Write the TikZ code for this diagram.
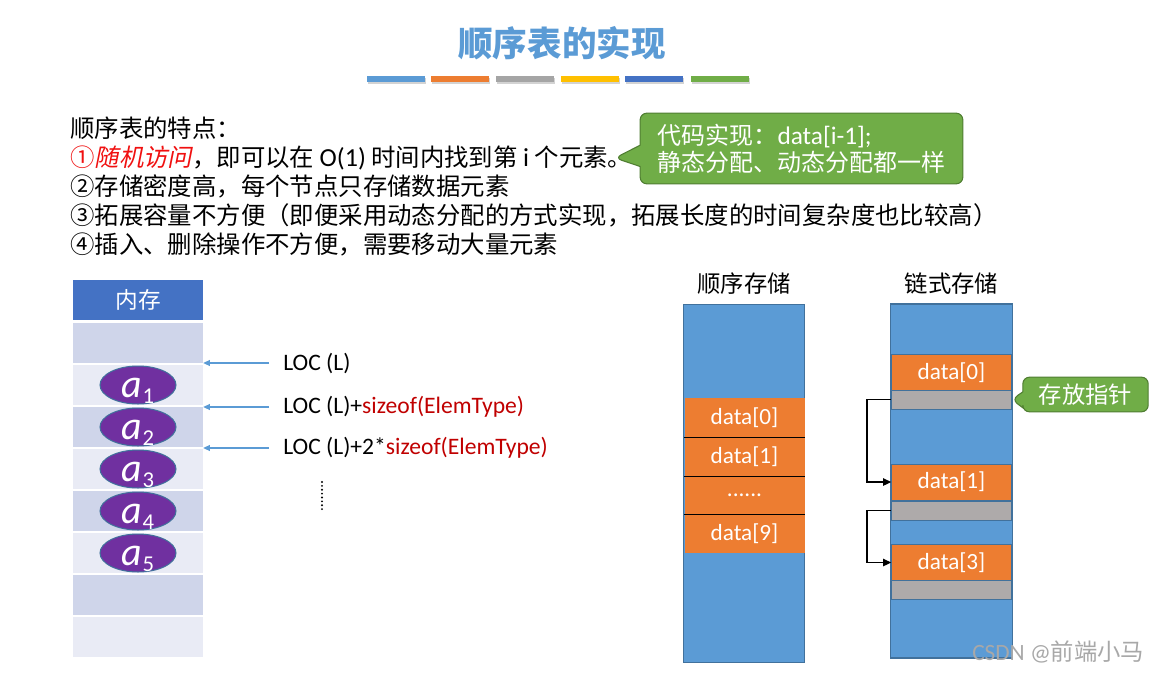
\documentclass[tikz,border=0pt]{standalone}
\usepackage{fontspec}
\setmainfont{Carlito}
\newfontfamily\cjk{Noto Sans CJK SC}
\newfontfamily\cjkit[FakeSlant=0.2]{Noto Sans CJK SC}
\usetikzlibrary{positioning,shapes.geometric,shapes.callouts,arrows.meta,shadows}
\definecolor{titleblue}{HTML}{5B9BD5}
\definecolor{barorange}{HTML}{ED7D31}
\definecolor{bargray}{HTML}{A5A5A5}
\definecolor{baryellow}{HTML}{FFC000}
\definecolor{bardark}{HTML}{4472C4}
\definecolor{bargreen}{HTML}{70AD47}
\definecolor{greenline}{HTML}{507E32}
\definecolor{memdark}{HTML}{CFD5EA}
\definecolor{memlight}{HTML}{E9EBF5}
\definecolor{elemfill}{HTML}{7030A0}
\definecolor{elemline}{HTML}{41719C}
\definecolor{colline}{HTML}{41719C}
\definecolor{ptrgray}{HTML}{AEAAAA}
\definecolor{hlred}{HTML}{F01010}
\definecolor{sizered}{HTML}{C00000}
\definecolor{wmgray}{HTML}{A8A8A8}
\newcommand\sixdots{......}

\begin{document}
\begin{tikzpicture}[x=0.75pt,y=-0.75pt,
  bar/.style={rectangle,inner sep=0pt,minimum width=43.5pt,minimum height=4.5pt,
    drop shadow={shadow xshift=0.8pt,shadow yshift=-1.2pt,opacity=0.35}},
  memrow/.style={rectangle,inner sep=0pt,minimum width=97.5pt,minimum height=30pt},
  elem/.style={ellipse,draw=elemline,line width=0.75pt,fill=elemfill,inner sep=0pt,
    minimum width=57pt,minimum height=28.5pt,text height=19pt,text depth=0pt,
    text=white,font=\fontsize{30}{30}\selectfont},
  ptr/.style={-{Triangle[length=5pt,width=4.5pt]},draw=titleblue,line width=0.8pt},
  loc/.style={anchor=west,inner sep=0pt,font=\fontsize{17.7}{20}\selectfont},
  head/.style={font=\cjk\fontsize{17.5}{20}\selectfont},
  col/.style={rectangle,draw=colline,fill=titleblue,line width=0.8pt,inner sep=0pt,minimum width=91pt},
  cell/.style={rectangle,inner sep=0pt,minimum width=90pt,text=white,font=\fontsize{17.4}{20}\selectfont},
  sep/.style={black,line width=0.9pt},
  link/.style={-{Triangle[length=6pt,width=5.5pt]},black,line width=1.1pt},
  note/.style={rectangle callout,rounded corners=5pt,fill=bargreen,draw=greenline,line width=0.8pt,
    text=white,inner sep=0pt,font=\cjk\fontsize{18}{20.3}\selectfont}]
\useasboundingbox (0,0) rectangle (1153,672);

\node[font=\cjk\bfseries\fontsize{25.9}{28}\selectfont,text=titleblue] (title) at (562,43) {顺序表的实现};
\foreach \x/\c [count=\i] in {396/titleblue,460/barorange,525/bargray,590/baryellow,654/bardark,720/bargreen}
  \node[bar,fill=\c] (bar\i) at (\x,79) {};

\node[anchor=north west,align=left,inner sep=0pt,font=\cjk\fontsize{18.3}{21.6}\selectfont] (feat) at (70,117)
  {顺序表的特点：\\
   {\color{hlred}①{\cjkit 随机访问}}，即可以在 {\rmfamily\fontsize{19.5}{21.6}\selectfont O(1)} 时间内找到第 {\rmfamily\fontsize{19.5}{21.6}\selectfont i} 个元素。\\
   ②存储密度高，每个节点只存储数据元素\\
   ③拓展容量不方便（即便采用动态分配的方式实现，拓展长度的时间复杂度也比较高）\\
   ④插入、删除操作不方便，需要移动大量元素};

\coordinate (tip1) at (615,158);
\node[note,callout absolute pointer={(tip1)},callout pointer width=16pt,
  minimum width=242pt,minimum height=53pt,align=left] (code) at (801.5,148.5)
  {代码实现：{\rmfamily\fontsize{19}{20.3}\selectfont data[i-1];}\\静态分配、动态分配都一样};

\node[memrow,fill=bardark,text=white,font=\cjk\fontsize{17}{20}\selectfont] (mh) at (138,300) {内存};
\foreach \i in {1,...,8}{
  \ifodd\i \def\c{memdark}\else \def\c{memlight}\fi
  \node[memrow,fill=\c] (m\i) at (138,{301+42*\i}) {};
}
\foreach \i in {1,...,5}
  \node[elem] (a\i) at (138,{343+42*\i}) {\itshape a\raisebox{-4.5pt}{\fontsize{17}{17}\selectfont\upshape\i}};

\node[loc] (l1) at (283,363) {LOC (L)};
\node[loc] (l2) at (283,407) {LOC (L)+{\color{sizered}sizeof(ElemType)}};
\node[loc] (l3) at (283,448) {LOC (L)+2*{\color{sizered}sizeof(ElemType)}};
\draw[ptr] ([xshift=-10.5pt]l1.west) -- (m1.south east |- l1.west);
\draw[ptr] ([xshift=-10.5pt]l2.west) -- (m2.south east |- l2.west);
\draw[ptr] ([xshift=-10.5pt]l3.west) -- (m3.south east |- l3.west);
\coordinate (v1) at (322,482);
\coordinate (v2) at (322,511);
\draw[line width=1.6pt,line cap=round,dash pattern=on 0pt off 2.9pt] (v1) -- (v2);

\node[head] (seqh) at (744,284) {顺序存储};
\node[col,minimum height=269pt] (seq) at (744,483.5) {};
\foreach \y/\t/\n in {417.5/data[0]/s0,456.5/data[1]/s1,495/\sixdots/s2,533.5/data[9]/s3}
  \node[cell,fill=barorange,minimum height=29pt] (\n) at (744.5,\y) {\t};
\foreach \n in {s0,s1,s2}
  \draw[sep] (\n.south west) -- (\n.south east);

\node[head] (lnkh) at (951.5,284) {链式存储};
\node[col,minimum height=265.5pt] (lnk) at (951.5,481) {};
\foreach \y/\t/\n in {372.5/data[0]/d0,482/data[1]/d1,562.5/data[3]/d3}
  \node[cell,fill=barorange,draw=colline,line width=0.5pt,minimum height=27pt] (\n) at (951.5,\y) {\t};
\foreach \y/\n in {399.5/g0,510.5/g1,589.5/g3}
  \node[cell,fill=ptrgray,draw=colline,line width=0.5pt,minimum height=14.25pt] (\n) at (951.5,\y) {};
\draw[link] (g0.west) -- ++(-24,0) |- (d1.west);
\draw[link] (g1.west) -- ++(-24,0) |- (d3.west);

\node[note,callout absolute pointer={(g0.east)},callout pointer width=12pt,
  minimum width=94pt,minimum height=26pt,font=\cjk\fontsize{17.5}{20}\selectfont] (pnote) at (1085.5,394.5) {存放指针};

\node[anchor=east,text=wmgray,font=\fontsize{17.5}{20}\selectfont] (wm) at (1149,652) {CSDN @{\cjk 前端小马}};
\end{tikzpicture}
\end{document}
